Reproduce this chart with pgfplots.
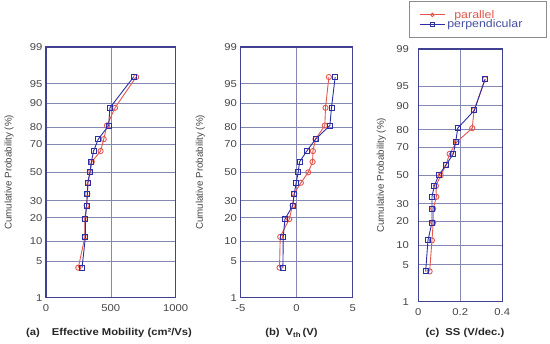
\documentclass[border=0pt]{standalone}
\usepackage{fontspec}
\setmainfont{Liberation Sans}
\newfontfamily\wide{Liberation Sans}[FakeStretch=1.13]
\usepackage{pgfplots}
\pgfplotsset{compat=1.18}
\definecolor{cred}{RGB}{226,88,78}
\definecolor{cblue}{RGB}{45,45,165}
\definecolor{cbox}{RGB}{65,65,145}
\definecolor{cgrid}{RGB}{135,135,180}
\definecolor{ctxt}{RGB}{70,70,70}
\definecolor{clegbox}{RGB}{140,140,140}
\definecolor{clegblue}{RGB}{70,80,160}
\pgfplotsset{
  myaxis/.style={
    scale only axis,
    anchor=south west,
    ymin=-2.3263, ymax=2.3263,
    ytick={-2.3263,-1.6449,-1.2816,-0.8416,-0.5244,0,0.5244,0.8416,1.2816,1.6449,2.3263},
    yticklabels={1,5,10,20,30,50,70,80,90,95,99},
    grid=major,
    major grid style={cgrid, line width=0.7bp},
    axis line style={cbox, line width=1.1bp},
    major tick length=0pt,
    tick style={draw=none},
    /pgf/number format/assume math mode=true,
    /pgf/number format/1000 sep={},
    ticklabel style={font=\wide\fontsize{10}{10}\selectfont, text=ctxt},
    xticklabel style={yshift=-3bp},
    ylabel={Cumulative Probability (\%)},
    ylabel style={anchor=center, font=\fontsize{9.8}{12}\selectfont, text=ctxt},
    xlabel style={anchor=center, font=\wide\fontsize{10}{12}\selectfont\bfseries, text=black!85},
  },
  red/.style={cred, line width=0.9bp, mark=o, mark size=2.6bp, mark options={solid, line width=0.9bp}},
  blue/.style={cblue, line width=0.9bp, mark=square, mark size=2.5bp, mark options={solid, line width=0.9bp}},
}
\begin{document}
\begin{tikzpicture}
\useasboundingbox (0,0) rectangle (550bp,344bp);
% ---------- (a)
\begin{axis}[myaxis, at={(46bp,46.3bp)}, width=129.7bp, height=250.7bp,
  xmin=0, xmax=1000, xtick={0,500,1000},
  ylabel style={at={(axis description cs:-0.285,0.5)}},
  xlabel={(a)\hspace{12bp}Effective Mobility (cm²/Vs)},
  xlabel style={at={(axis description cs:0.486,-0.1408)}},
]
\addplot[red] coordinates {(249,-1.769)(300,-1.198)(299,-0.869)(313,-0.615)(319,-0.396)(324,-0.194)(339,0)(353,0.194)(421,0.396)(445,0.615)(470,0.869)(532,1.198)(695,1.769)};
\addplot[blue] coordinates {(278,-1.769)(304,-1.198)(303,-0.869)(313,-0.615)(319,-0.396)(322,-0.194)(339,0)(350,0.194)(367,0.396)(403,0.615)(483,0.869)(493,1.198)(675,1.769)};
\end{axis}
% ---------- (b)
\begin{axis}[myaxis, at={(240.3bp,46.3bp)}, width=112.4bp, height=250.7bp,
  xmin=-5, xmax=5, xtick={-5,0,5},
  ylabel style={at={(axis description cs:-0.356,0.5)}},
  xlabel={(b)\hspace{6bp}V\textsubscript{th}\,(V)},
  xlabel style={at={(axis description cs:0.4555,-0.1408)}},
]
\addplot[red] coordinates {(-1.51,-1.769)(-1.45,-1.198)(-0.65,-0.869)(-0.35,-0.615)(-0.2,-0.396)(0.39,-0.194)(1.04,0)(1.43,0.194)(1.46,0.396)(1.69,0.615)(2.52,0.869)(2.58,1.198)(2.88,1.769)};
\addplot[blue] coordinates {(-1.21,-1.769)(-1.18,-1.198)(-1.03,-0.869)(-0.33,-0.615)(-0.2,-0.396)(-0.03,-0.194)(0.15,0)(0.27,0.194)(0.92,0.396)(1.69,0.615)(2.97,0.869)(3.11,1.198)(3.44,1.769)};
\end{axis}
% ---------- (c)
\begin{axis}[myaxis, at={(418.3bp,42.3bp)}, width=84bp, height=252.7bp,
  xmin=0, xmax=0.4, xtick={0,0.2,0.4},
  yticklabel style={xshift=-6bp},
  ylabel style={at={(axis description cs:-0.44,0.5)}},
  xlabel={(c)\hspace{6bp}SS (V/dec.)},
  xlabel style={at={(axis description cs:0.556,-0.1239)}},
  legend style={at={(rel axis cs:-0.11,1.1888)}, anchor=north west,
    draw=clegbox, line width=0.8bp,
    inner xsep=10bp, inner ysep=6.5bp, row sep=-4bp,
    font=\wide\fontsize{11}{11}\selectfont},
  legend cell align=left,
  legend image code/.code={\draw[mark repeat=2,mark phase=2, mark size=1.8bp] plot coordinates {(0bp,0bp)(12.5bp,0bp)(25bp,0bp)};},
]
\addplot[red] coordinates {(0.054,-1.769)(0.065,-1.198)(0.071,-0.869)(0.071,-0.615)(0.086,-0.396)(0.084,-0.194)(0.107,0)(0.132,0.194)(0.149,0.396)(0.183,0.615)(0.257,0.869)(0.265,1.198)(0.318,1.769)};
\addlegendentry{\textcolor{cred}{\hspace{7bp}parallel}}
\addplot[blue] coordinates {(0.035,-1.769)(0.046,-1.198)(0.065,-0.869)(0.065,-0.615)(0.065,-0.396)(0.076,-0.194)(0.097,0)(0.132,0.194)(0.167,0.396)(0.178,0.615)(0.188,0.869)(0.267,1.198)(0.318,1.769)};
\addlegendentry{\textcolor{clegblue}{perpendicular\hspace{12bp}}}
\end{axis}
\end{tikzpicture}
\end{document}
